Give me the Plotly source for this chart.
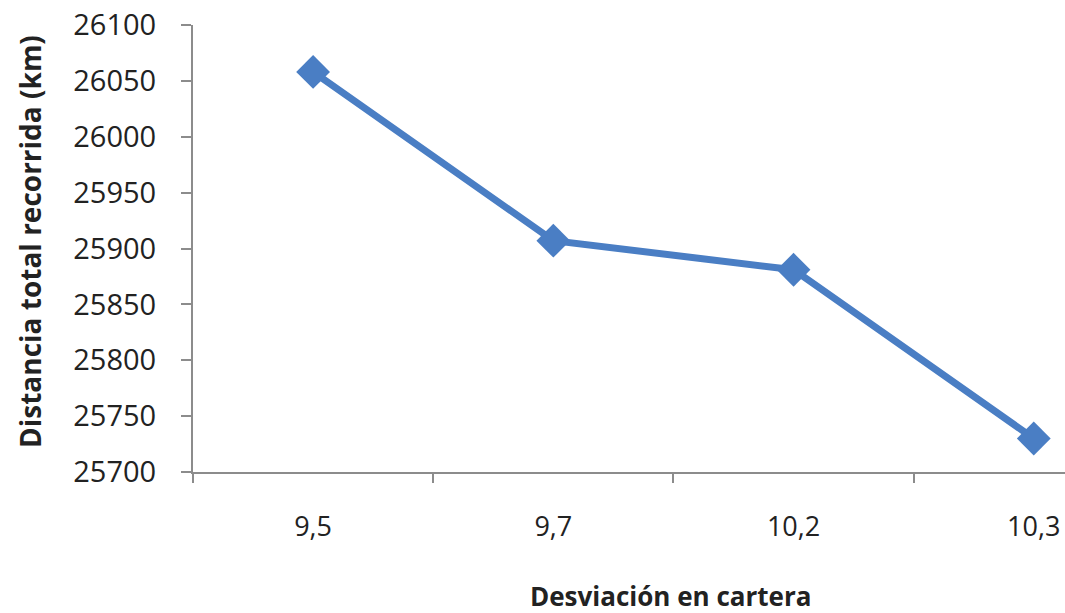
import plotly.graph_objects as go

categories = ["9,5", "9,7", "10,2", "10,3"]
distance_km = [26058, 25907, 25881, 25730]
y_ticks = [25700, 25750, 25800, 25850, 25900, 25950, 26000, 26050, 26100]

x_title = "Desviación en cartera"
y_title = "Distancia total recorrida (km)"

blue = "#4A7EC4"
axis_col = "#8C8C8C"
txt = "#222222"
font_fam = "'Open Sans', Lato, sans-serif"

fig = go.Figure()
fig.add_trace(go.Scatter(
    x=categories, y=distance_km, mode="lines+markers",
    line=dict(color=blue, width=7),
    marker=dict(symbol="diamond", size=26, color=blue),
    showlegend=False, cliponaxis=False,
))

fig.update_layout(
    width=1065, height=613,
    margin=dict(l=193, r=0, t=25, b=141),
    paper_bgcolor="white", plot_bgcolor="white",
    font=dict(family=font_fam, color=txt),
    xaxis=dict(
        type="category", range=[-0.5, 3.13],
        tickson="boundaries", ticks="outside", ticklen=9, tickwidth=2,
        tickcolor=axis_col, showline=True, linecolor=axis_col, linewidth=2,
        showgrid=False, zeroline=False,
        tickfont=dict(size=27, color=txt), ticklabelstandoff=30,
    ),
    yaxis=dict(
        range=[25700, 26100], tickvals=y_ticks, tickformat="d",
        ticks="outside", ticklen=10, tickwidth=2, tickcolor=axis_col,
        showline=True, linecolor=axis_col, linewidth=2,
        showgrid=False, zeroline=False,
        tickfont=dict(size=29, color=txt), ticklabelstandoff=19,
    ),
    annotations=[
        dict(text=f"<b>{x_title}</b>", xref="paper", yref="paper",
             x=(670 - 193) / (1065 - 193), y=-(596 - 472) / (472 - 25),
             xanchor="center", yanchor="middle", showarrow=False,
             font=dict(size=26, color=txt)),
        dict(text=f"<b>{y_title}</b>", xref="paper", yref="paper",
             x=-(193 - 30) / (1065 - 193), y=(472 - 242) / (472 - 25),
             xanchor="center", yanchor="middle", showarrow=False, textangle=-90,
             font=dict(size=28, color=txt)),
    ],
)

fig.write_html("out.html", config={"displayModeBar": False},
               post_script="document.body.style.margin='0';")
